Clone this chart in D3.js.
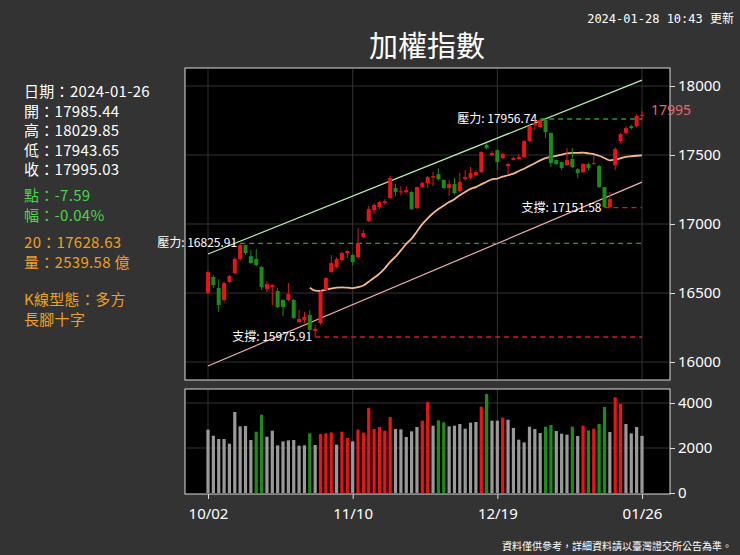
<!DOCTYPE html>
<html><head><meta charset="utf-8">
<script src="https://cdn.jsdelivr.net/npm/d3@7"></script>
<style>body{margin:0;background:#333;}svg{display:block;font-family:"Noto Sans CJK TC","Noto Sans",sans-serif;}</style>
</head><body><svg id="c" width="740" height="555"></svg>
<script>
const xLabels = ["10/02","11/10","12/19","01/26"];
const xLabelIdx = [0,27,54,81];
const opens  = [16376,16521,16421,16312,16476,16557,16684,16811,16711,16684,16612,16412,16430,16394,16312,16312,16312,16112,16130,16176,16030,16103,16403,16566,16612,16675,16739,16721,16702,16884,17029,17129,17156,17195,17238,17330,17290,17292,17293,17147,17338,17374,17425,17456,17402,17329,17365,17302,17411,17420,17447,17474,17720,17629,17674,17602,17529,17584,17593,17610,17756,17901,17883,17947,17829,17584,17565,17538,17593,17501,17474,17547,17547,17529,17338,17156,17538,17756,17829,17892,17892,17985.44];
const closes = [16566,16448,16267,16466,16530,16684,16811,16739,16648,16630,16430,16457,16448,16248,16248,16366,16149,16140,16158,16040,16049,16385,16512,16648,16684,16739,16757,16657,16830,16920,17138,17175,17202,17210,17420,17293,17300,17310,17138,17338,17375,17429,17437,17411,17329,17365,17284,17383,17429,17465,17474,17656,17692,17647,17565,17638,17547,17602,17611,17756,17892,17920,17947,17838,17556,17547,17511,17584,17520,17465,17547,17511,17556,17338,17156,17229,17683,17819,17874,17874,17985,17995.03];
const highs  = [16575,16540,16500,16480,16540,16700,16825.91,16815,16766,16775,16620,16485,16455,16420,16320,16466,16320,16221,16203,16221,16085,16400,16520,16720,16700,16750,16766,16730,16966,16948,17165,17190,17210,17229,17438,17370,17347,17347,17300,17345,17385,17440,17474,17511,17410,17402,17420,17465,17492,17520,17490,17665,17738,17665,17680,17650,17560,17615,17640,17765,17900,17956.74,17956.74,17956,17835,17590,17570,17692,17692,17510,17555,17560,17629,17540,17340,17293,17700,17830,17890,17905,18000,18029.85];
const lows   = [16370,16420,16203,16290,16470,16550,16670,16720,16640,16620,16403,16385,16267,16240,16167,16300,16140,16100,16100,16012,15975.91,16090,16400,16560,16600,16660,16693,16630,16690,16880,17020,17093,17140,17180,17230,17256,17265,17280,17130,17140,17330,17329,17347,17400,17320,17256,17270,17290,17400,17410,17440,17465,17680,17620,17492,17595,17456,17580,17590,17600,17750,17856,17880,17783,17520,17540,17492,17530,17510,17420,17465,17490,17540,17330,17151.58,17151.58,17492,17740,17820,17860,17880,17943.65];
const volumes = [2814,2547,2399,2399,2192,3599,2962,2977,2355,2725,3480,2503,2769,2118,2296,2340,2355,2103,2118,2651,2133,2621,2651,2695,2147,2725,2444,2296,2814,2681,3777,2844,2932,2769,3377,2844,2829,2488,2740,2932,3214,4043,2992,3229,3140,2962,2992,3066,2858,3125,3155,3836,4399,3214,3214,3347,3258,2888,2370,2251,2947,2844,2666,2947,3021,2755,2636,2592,2947,2533,2992,2784,2858,3066,3821,2710,4250,3969,3066,2651,2932,2539.58];
const volRed = [21,22,23,25,26,28,29,30,31,32,33,34,40,41,51,55,70,72,76,77];
const volGreen = [9,10,19,43,44,52,63,64,68,71,73,74];
const priceTicks = [16000,16500,17000,17500,18000];
const volTicks = [0,2000,4000];
const upperTrend = [0,16730,81,18310];
const lowerTrend = [0,15713,81,17383];
const levels = [["壓力: 16825.91",16825.91,6,"r"],["支撐: 15975.91",15975.91,20,"s"],["壓力: 17956.74",17956.74,62,"r"],["支撐: 17151.58",17151.58,74,"s"]];
const infoLines = [["日期：2024-01-26","#fff"],["開：17985.44","#fff"],["高：18029.85","#fff"],["低：17943.65","#fff"],["收：17995.03","#fff"],["點：-7.59","#4cd44c"],["幅：-0.04%","#4cd44c"],["20：17628.63","#f0a020"],["量：2539.58 億","#f0a020"],["K線型態：多方","#f0a020"],["長腳十字","#f0a020"]];
const infoY = [97,117,136,156,175,201,221,248,268,305,325];

const svg = d3.select("#c");
const RED="#e8141a", GREEN="#1b8c1b";
const n = closes.length;
const x = d3.scaleLinear().domain([0,n-1]).range([208,642]);
const yP = d3.scaleLinear().domain([15975.91,17956.74]).range([337,119]);
const yAx = d3.scaleLinear().domain([16000,18000]).range([362,86]);
const yV = d3.scaleLinear().domain([0,4000]).range([493,403]);

svg.append("rect").attr("x",185).attr("y",68).attr("width",485).attr("height",312).attr("fill","#000").attr("stroke","#ddd");
svg.append("rect").attr("x",185).attr("y",389).attr("width",485).attr("height",105).attr("fill","#000").attr("stroke","#ddd");
const grid="#333";
xLabelIdx.forEach(i=>{
  svg.append("line").attr("x1",x(i)).attr("x2",x(i)).attr("y1",69).attr("y2",379).attr("stroke",grid);
  svg.append("line").attr("x1",x(i)).attr("x2",x(i)).attr("y1",390).attr("y2",493).attr("stroke",grid);
});
priceTicks.forEach(t=>svg.append("line").attr("x1",186).attr("x2",669).attr("y1",yAx(t)).attr("y2",yAx(t)).attr("stroke",grid));
volTicks.slice(1).forEach(t=>svg.append("line").attr("x1",186).attr("x2",669).attr("y1",yV(t)).attr("y2",yV(t)).attr("stroke",grid));

const axP = svg.append("g").attr("transform","translate(670,0)").call(d3.axisRight(yAx).tickValues(priceTicks).tickSize(5).tickFormat(d3.format("d")));
const axV = svg.append("g").attr("transform","translate(670,0)").call(d3.axisRight(yV).tickValues(volTicks).tickSize(5).tickFormat(d3.format("d")));
const axX = svg.append("g").attr("transform","translate(0,494)").call(d3.axisBottom(x).tickValues(xLabelIdx).tickSize(5).tickFormat((d,i)=>xLabels[i]));
[axP,axV,axX].forEach(a=>{a.select(".domain").remove();a.selectAll("line").attr("stroke","#ddd");a.selectAll("text").attr("fill","#fff").style("font-size","15px").style("font-family","'Noto Sans','DejaVu Sans',sans-serif");});
axX.selectAll("text").attr("dy","1.1em");

svg.append("line").attr("x1",x(upperTrend[0])).attr("y1",yP(upperTrend[1])).attr("x2",x(upperTrend[2])).attr("y2",yP(upperTrend[3])).attr("stroke","#b8f0b0").attr("stroke-width",1.2);
svg.append("line").attr("x1",x(lowerTrend[0])).attr("y1",yP(lowerTrend[1])).attr("x2",x(lowerTrend[2])).attr("y2",yP(lowerTrend[3])).attr("stroke","#f0b0b0").attr("stroke-width",1.2);

levels.forEach(([lab,v,si,tp])=>{
  svg.append("line").attr("x1",x(si)).attr("x2",x(n-1)).attr("y1",yP(v)).attr("y2",yP(v)).attr("stroke",tp==="r"?"#2a9a2a":"#e01818").attr("stroke-width",1.3).attr("stroke-dasharray","5,4");
  svg.append("text").attr("x",x(si)-3).attr("y",yP(v)+4).attr("text-anchor","end").attr("fill","#fff").style("font-size","12px").text(lab);
});

const ma = closes.map((c,i)=>i<19?null:d3.mean(closes.slice(i-19,i+1)));
svg.append("path").datum(ma.map((v,i)=>[i,v]).filter(d=>d[1]!=null))
  .attr("d",d3.line().x(d=>x(d[0])).y(d=>yP(d[1])).curve(d3.curveMonotoneX))
  .attr("fill","none").attr("stroke","#f5b88a").attr("stroke-width",1.8);

const cw=4;
const g = svg.append("g");
d3.range(n).forEach(i=>{
  const up = closes[i]>=opens[i], col = up?RED:GREEN;
  g.append("line").attr("x1",x(i)).attr("x2",x(i)).attr("y1",yP(highs[i])).attr("y2",yP(lows[i])).attr("stroke",col);
  const top=yP(Math.max(opens[i],closes[i])), bot=yP(Math.min(opens[i],closes[i]));
  g.append("rect").attr("x",x(i)-cw/2).attr("y",top).attr("width",cw).attr("height",Math.max(1,bot-top)).attr("fill",col);
});
svg.append("text").attr("x",651).attr("y",yP(closes[n-1])).attr("fill","#e46868").style("font-size","14px").style("font-family","'Noto Sans',sans-serif").text(Math.round(closes[n-1]));

d3.range(n).forEach(i=>{
  const col = volRed.includes(i)?RED:volGreen.includes(i)?GREEN:"#999";
  svg.append("rect").attr("x",x(i)-1.6).attr("y",yV(volumes[i])).attr("width",3.2).attr("height",yV(0)-yV(volumes[i])).attr("fill",col);
});

svg.append("text").attr("x",427).attr("y",57).attr("text-anchor","middle").attr("fill","#fff").style("font-size","29px").text("加權指數");
svg.append("text").attr("x",734).attr("y",23).attr("text-anchor","end").attr("fill","#fff").style("font-size","12px").style("font-family","'DejaVu Sans Mono','Noto Sans CJK TC',monospace").text("2024-01-28 10:43 更新");
svg.append("text").attr("x",732).attr("y",550).attr("text-anchor","end").attr("fill","#fff").style("font-size","10px").text("資料僅供參考，詳細資料請以臺灣證交所公告為準。");
infoLines.forEach(([t,c],i)=>svg.append("text").attr("x",24).attr("y",infoY[i]).attr("fill",c).style("font-size","15px").style("letter-spacing","0.3px").text(t));
</script></body></html>
